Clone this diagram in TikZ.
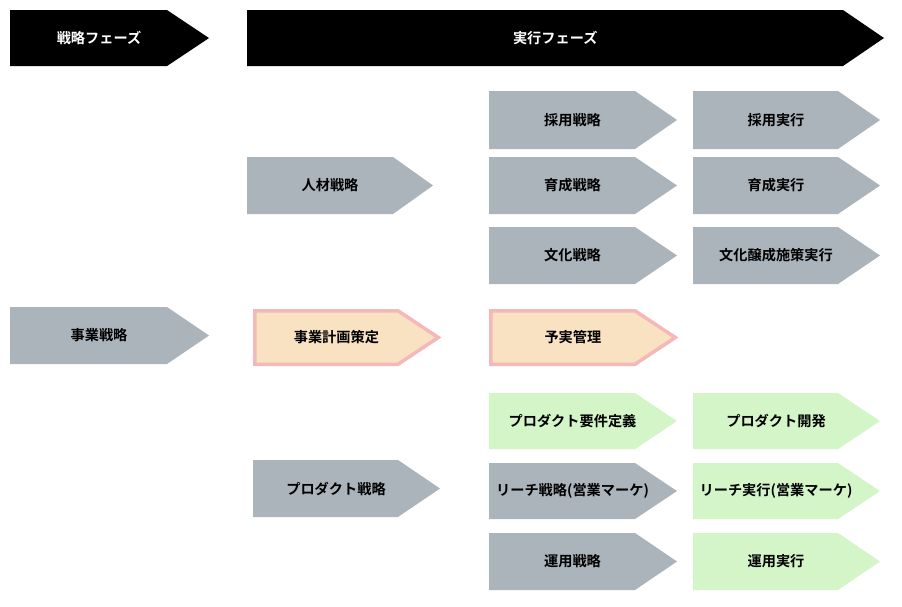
\documentclass[tikz,border=0pt]{standalone}
\usepackage{fontspec}
\setmainfont{Noto Sans CJK JP}[BoldFont={Noto Sans CJK JP Bold}]
\definecolor{hdr}{HTML}{000000}
\definecolor{grayfill}{HTML}{ABB4BB}
\definecolor{greenfill}{HTML}{D4F5C8}
\definecolor{peachfill}{HTML}{F8E2C2}
\definecolor{pinkline}{HTML}{F4B8B8}
\tikzset{
  hdrbox/.style={fill=hdr},
  graybox/.style={fill=grayfill},
  greenbox/.style={fill=greenfill},
  peachbox/.style={fill=peachfill, draw=pinkline, line width=3.5pt, line join=miter},
  lbl/.style={font=\bfseries\fontsize{14.2}{17}\selectfont, text=black, inner sep=0pt},
  hlbl/.style={lbl, text=white},
}
% #1 name, #2 left, #3 body end, #4 tip, #5 top, #6 bottom, #7 box style, #8 label style, #9 text
\newcommand\abox[9]{%
  \path[#7] (#2,#5) -- (#3,#5) -- (#4,{(#5+#6)/2}) -- (#3,#6) -- (#2,#6) -- cycle;
  \node[#8] (#1) at ({(#2+(#3+#4)/2)/2},{(#5+#6)/2}) {#9};
}
\begin{document}
\begin{tikzpicture}[x=1pt,y=-1pt]
\useasboundingbox[fill=white] (0,0) rectangle (902,606);
% headers
\abox{hs}{10}{167}{209}{10}{66}{hdrbox}{hlbl}{戦略フェーズ}
\abox{he}{247}{843}{884}{10}{66}{hdrbox}{hlbl}{実行フェーズ}
% strategy column
\abox{jigyo}{10}{167}{209}{307}{364}{graybox}{lbl}{事業戦略}
% second column
\abox{jinzai}{247}{393}{433}{157}{214}{graybox}{lbl}{人材戦略}
\abox{keikaku}{254.75}{398}{438.25}{310.75}{364.25}{peachbox}{lbl}{事業計画策定}
\abox{product}{253}{398}{440}{460}{517}{graybox}{lbl}{プロダクト戦略}
% third column
\abox{saiyo}{489}{635}{677}{91}{149}{graybox}{lbl}{採用戦略}
\abox{ikusei}{489}{635}{677}{157}{214}{graybox}{lbl}{育成戦略}
\abox{bunka}{489}{635}{677}{227}{284}{graybox}{lbl}{文化戦略}
\abox{yojitsu}{490.75}{635}{675.25}{310.75}{364.25}{peachbox}{lbl}{予実管理}
\abox{yoken}{489}{635}{677}{393}{449}{greenbox}{lbl}{プロダクト要件定義}
\abox{reach}{489}{635}{677}{463}{519}{graybox}{lbl}{リーチ戦略(営業マーケ)}
\abox{unyo}{489}{635}{677}{533}{590}{graybox}{lbl}{運用戦略}
% fourth column
\abox{saiyox}{693}{838}{880}{91}{149}{graybox}{lbl}{採用実行}
\abox{ikuseix}{693}{838}{880}{157}{214}{graybox}{lbl}{育成実行}
\abox{bunkax}{693}{838}{880}{227}{284}{graybox}{lbl}{文化醸成施策実行}
\abox{kaihatsu}{693}{838}{880}{393}{449}{greenbox}{lbl}{プロダクト開発}
\abox{reachx}{693}{838}{880}{463}{519}{greenbox}{lbl}{リーチ実行(営業マーケ)}
\abox{unyox}{693}{838}{880}{533}{590}{greenbox}{lbl}{運用実行}
\end{tikzpicture}
\end{document}
